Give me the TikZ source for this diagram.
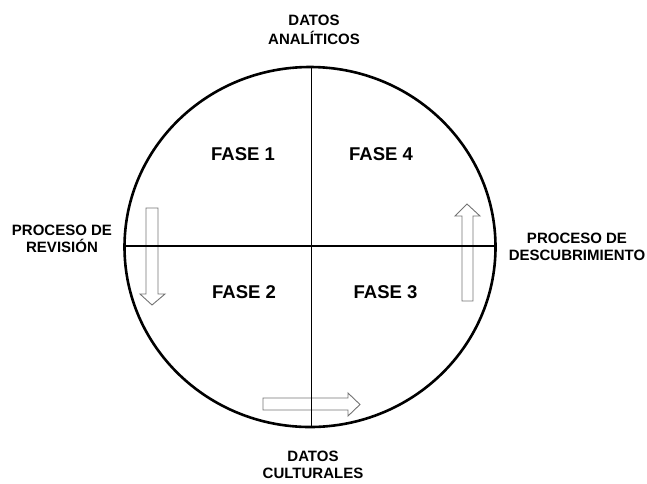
\documentclass[tikz,border=0pt]{standalone}
\usepackage{fontspec}
\setmainfont{Liberation Sans}
\usepackage{tikz}
\tikzset{
  fase/.style={font=\bfseries\fontsize{18.5}{20}\selectfont},
  etiqueta/.style={font=\bfseries\fontsize{15}{17.5}\selectfont, align=center, inner sep=0pt},
  flecha/.style={draw=black!55, line width=0.9pt, line join=miter}
}

\begin{document}
\begin{tikzpicture}[x=1pt, y=-1pt]
    \useasboundingbox (0,0) rectangle (647,483);
    % centro del circulo
    \coordinate (C) at (310,247);
    % flechas huecas (se dibujan antes que los ejes)
    \draw[flecha] (146,208) -- (158,208) -- (158,294) -- (165,294) -- (152,305)
        -- (140,294) -- (146,294) -- cycle;
    \draw[flecha] (462,301) -- (473,301) -- (473,216) -- (480,216) -- (467,204)
        -- (455,216) -- (462,216) -- cycle;
    \draw[flecha] (263,398) -- (348,398) -- (348,393) -- (360,404.5) -- (348,416)
        -- (348,410) -- (263,410) -- cycle;
    % ejes
    \coordinate (L) at (124,246);
    \coordinate (R) at (495,246);
    \coordinate (T) at (311.5,67);
    \coordinate (B) at (311.5,427);
    \draw[line width=1.8pt] (L) -- (R);
    \draw[line width=1.8pt] (T) -- (B);
    \draw[line width=2.6pt] (C) ellipse (185.5 and 180);
    % fases
    \node[fase] (f1) at (243,154) {FASE 1};
    \node[fase] (f4) at (381,154) {FASE 4};
    \node[fase] (f2) at (244,292) {FASE 2};
    \node[fase] (f3) at (385.5,292) {FASE 3};
    % etiquetas exteriores
    \node[etiqueta] (analiticos) at (314,30) {DATOS\\[2pt]ANALÍTICOS};
    \node[etiqueta] (culturales) at (313,465) {DATOS\\CULTURALES};
    \node[etiqueta] (revision) at (62,239) {PROCESO DE\\REVISIÓN};
    \node[etiqueta] (descubrimiento) at (577,247) {PROCESO DE\\DESCUBRIMIENTO};
\end{tikzpicture}
\end{document}
